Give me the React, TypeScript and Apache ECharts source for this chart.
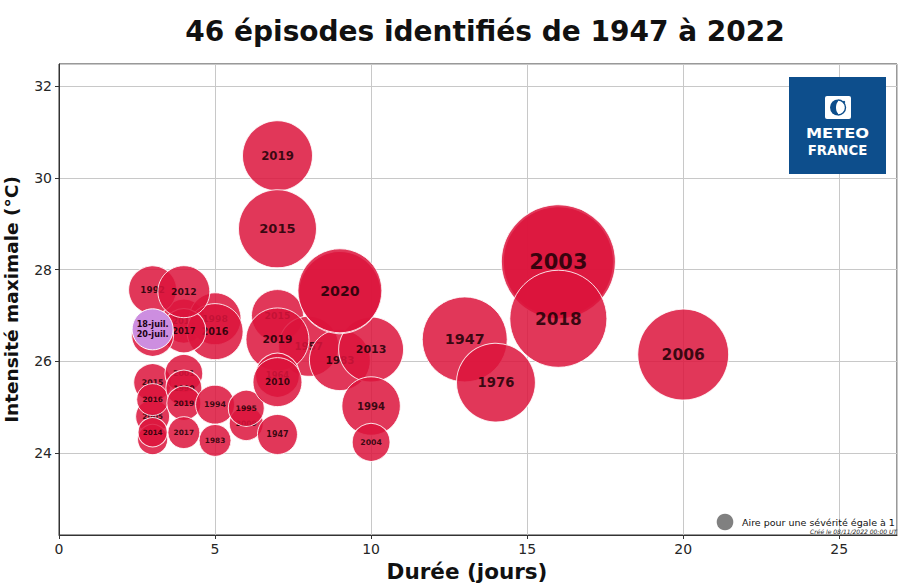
import React, { useEffect, useRef } from 'react';
import * as echarts from 'echarts';

// Episodes (drawn in this order; later bubbles cover earlier ones)
const durations = [4, 5, 5, 4, 3, 4, 3, 3, 3, 3, 3, 3, 4, 4, 4, 4, 5, 5, 6, 6, 7, 8, 7, 7, 7, 7, 9, 10, 10, 10, 7, 7, 9, 9, 13, 14, 16, 16, 16, 20];
const intensities = [26.88, 26.93, 26.65, 26.67, 27.56, 27.52, 26.57, 25.54, 24.8, 25.17, 24.3, 24.46, 25.74, 25.42, 25.09, 24.45, 25.06, 24.28, 24.65, 24.98, 27.0, 26.33, 26.48, 25.7, 25.55, 24.41, 26.03, 26.26, 25.03, 24.24, 30.48, 28.89, 27.5, 27.54, 26.48, 25.54, 28.17, 28.17, 26.93, 26.15];
const severities = [7.0, 9.8, 11.4, 7.0, 8.4, 9.8, 6.4, 5.2, 4.2, 3.7, 3.3, 3.1, 5.2, 4.7, 4.2, 3.7, 5.5, 3.7, 4.2, 4.7, 9.8, 13.1, 14.4, 7.0, 8.7, 5.8, 13.5, 15.3, 12.4, 5.2, 17.8, 22.1, 24.5, 25.6, 26.2, 22.6, 44.0, 47.2, 34.2, 30.0];
const labels = ['2011', '1998', '2016', '2017', '1992', '2012', '', '2015', '2005', '2016', '', '2014', '2001', '1990', '2019', '2017', '1994', '1983', '2009', '1995', '2015', '1957', '2019', '1964', '2010', '1947', '1983', '2013', '1994', '2004', '2019', '2015', '', '2020', '1947', '1976', '', '2003', '2018', '2006'];

// Current episode (highlighted)
const currentDuration = [3];
const currentIntensity = [26.7];
const currentSeverity = [6.1];
const currentLabel = ['18-juil.\n20-juil.'];

const xTicks = [0, 5, 10, 15, 20, 25];
const yTicks = [24, 26, 28, 30, 32];

const R1 = 8.3; // radius in px of a bubble with severity 1
const sizeOf = (sev: number) => 2 * R1 * Math.sqrt(sev);
const fontOf = (sev: number) => 6.2 + 0.312 * sev;

export default function App() {
  const ref = useRef<HTMLDivElement>(null);
  useEffect(() => {
    const chart = echarts.init(ref.current!, null, { renderer: 'svg' });
    const series: any[] = durations.map((d, i) => ({
      type: 'scatter',
      z: 2 + i,
      silent: true,
      data: [[d, intensities[i], severities[i]]],
      symbolSize: (v: number[]) => sizeOf(v[2]),
      itemStyle: { color: '#dc143c', opacity: 0.85, borderColor: '#ffffff', borderWidth: 1 },
      label: {
        show: labels[i] !== '',
        position: 'inside',
        formatter: labels[i],
        fontSize: fontOf(severities[i]),
        fontWeight: 'bold',
        fontFamily: 'DejaVu Sans',
        color: '#1a0005',
      },
      emphasis: { disabled: true },
    }));
    series.push({
      type: 'scatter',
      z: 100,
      silent: true,
      data: currentDuration.map((d, i) => [d, currentIntensity[i], currentSeverity[i]]),
      symbolSize: (v: number[]) => sizeOf(v[2]),
      itemStyle: { color: '#cd8ee0', opacity: 1, borderColor: '#ffffff', borderWidth: 1 },
      label: {
        show: true,
        position: 'inside',
        formatter: currentLabel[0],
        fontSize: fontOf(currentSeverity[0]),
        lineHeight: fontOf(currentSeverity[0]) * 1.2,
        fontWeight: 'bold',
        fontFamily: 'DejaVu Sans',
        color: '#1a0010',
      },
      emphasis: { disabled: true },
    });

    const blue = '#0d4e8c';
    chart.setOption({
      animation: false,
      grid: {
        left: 59, right: 1, top: 64, bottom: 50,
        show: true, borderColor: '#333333', borderWidth: 1, backgroundColor: 'transparent',
        containLabel: false, outerBoundsMode: 'none',
      },
      xAxis: {
        type: 'value', min: 0, max: 26.85,
        name: 'Durée (jours)', nameLocation: 'middle', nameGap: 23,
        nameTextStyle: { fontFamily: 'DejaVu Sans', fontWeight: 'bold', fontSize: 21.5, color: '#111', padding: [0, 22, 0, 0] },
        axisLine: { show: true, lineStyle: { color: '#333', width: 1 } },
        axisTick: { show: true, length: 4, lineStyle: { color: '#333' } },
        axisLabel: {
          fontFamily: 'DejaVu Sans', fontSize: 14, color: '#262626', margin: 7,
          showMaxLabel: false,
          formatter: (v: number) => (xTicks.includes(Math.round(v * 1000) / 1000) ? String(v) : ''),
        },
        splitLine: { show: true, lineStyle: { color: '#c8c8c8', width: 1 } },
      },
      yAxis: {
        type: 'value', min: 22.22, max: 32.48,
        name: 'Intensité maximale (°C)', nameLocation: 'middle', nameGap: 38,
        nameTextStyle: { fontFamily: 'DejaVu Sans', fontWeight: 'bold', fontSize: 18.5, color: '#111' },
        axisLine: { show: true, lineStyle: { color: '#333', width: 1 } },
        axisTick: { show: true, length: 4, lineStyle: { color: '#333' } },
        axisLabel: {
          fontFamily: 'DejaVu Sans', fontSize: 14, color: '#262626', margin: 7,
          showMinLabel: false, showMaxLabel: false,
          formatter: (v: number) => (yTicks.includes(Math.round(v * 1000) / 1000) ? String(v) : ''),
        },
        splitLine: { show: true, lineStyle: { color: '#c8c8c8', width: 1 } },
      },
      series,
      graphic: [
        {
          type: 'text', x: 485, y: 31, z: 200,
          style: {
            text: '46 épisodes identifiés de 1947 à 2022',
            fontFamily: 'DejaVu Sans', fontWeight: 'bold', fontSize: 28, fill: '#111',
            textAlign: 'center', textVerticalAlign: 'middle', align: 'center', verticalAlign: 'middle',
          },
        },
        { type: 'rect', z: 200, shape: { x: 789, y: 77, width: 97, height: 97 }, style: { fill: blue } },
        { type: 'rect', z: 201, shape: { x: 825, y: 96, width: 26, height: 23, r: 2 }, style: { fill: '#ffffff' } },
        { type: 'sector', z: 202, shape: { cx: 838, cy: 107.5, r: 8, r0: 0, startAngle: Math.PI / 2, endAngle: (3 * Math.PI) / 2 }, style: { fill: blue } },
        { type: 'ellipse', z: 203, shape: { cx: 839.5, cy: 107.5, rx: 3.5, ry: 6.5 }, style: { fill: '#ffffff' } },
        { type: 'arc', z: 203, shape: { cx: 838, cy: 107.5, r: 7.5, startAngle: -Math.PI / 2, endAngle: Math.PI / 2 }, style: { stroke: blue, lineWidth: 1.4, fill: 'none' } },
        { type: 'circle', z: 204, shape: { cx: 844, cy: 102, r: 1.2 }, style: { fill: blue } },
        {
          type: 'text', x: 837.5, y: 133, z: 202, scaleX: 1.12,
          style: {
            text: 'METEO', fontFamily: 'DejaVu Sans', fontWeight: 'bold', fontSize: 14.5, fill: '#ffffff',
            textAlign: 'center', textVerticalAlign: 'middle', align: 'center', verticalAlign: 'middle',
          },
        },
        {
          type: 'text', x: 837.5, y: 150, z: 202, scaleX: 0.95,
          style: {
            text: 'FRANCE', fontFamily: 'DejaVu Sans', fontWeight: 'bold', fontSize: 14, fill: '#ffffff',
            textAlign: 'center', textVerticalAlign: 'middle', align: 'center', verticalAlign: 'middle',
          },
        },
        { type: 'circle', z: 200, shape: { cx: 725, cy: 522, r: R1 }, style: { fill: '#808080' } },
        {
          type: 'text', x: 742, y: 522, z: 200,
          style: {
            text: 'Aire pour une sévérité égale à 1', fontFamily: 'DejaVu Sans', fontSize: 9.5, fill: '#111',
            textAlign: 'left', textVerticalAlign: 'middle', align: 'left', verticalAlign: 'middle',
          },
        },
        {
          type: 'text', x: 897, y: 531, z: 200,
          style: {
            text: 'Créé le 08/11/2022 00:00 UT', fontFamily: 'DejaVu Sans', fontStyle: 'italic', fontSize: 6, fill: '#222',
            textAlign: 'right', textVerticalAlign: 'middle', align: 'right', verticalAlign: 'middle',
          },
        },
      ],
    });
    return () => chart.dispose();
  }, []);
  return <div ref={ref} style={{ position: 'absolute', left: 0, top: 0, width: 898, height: 585, background: '#fff' }} />;
}
